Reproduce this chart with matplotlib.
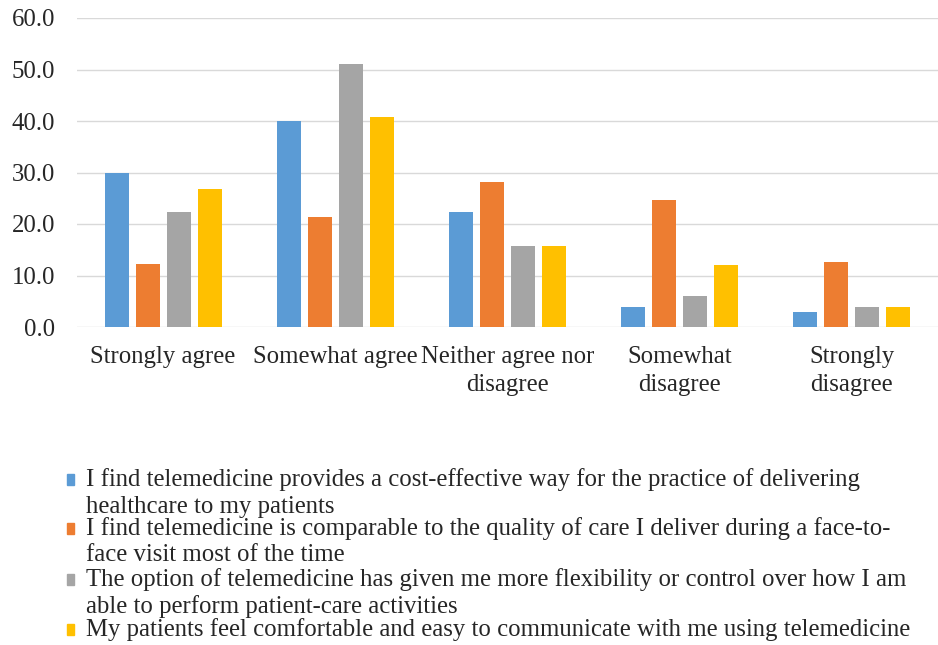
import matplotlib
matplotlib.use("Agg")
import matplotlib.pyplot as plt
from matplotlib.patches import Rectangle
import numpy as np

categories = ["Strongly agree", "Somewhat agree", "Neither agree nor\ndisagree",
              "Somewhat\ndisagree", "Strongly\ndisagree"]

cost_effective = [30.0, 40.0, 22.4, 3.9, 3.0]
comparable_quality = [12.2, 21.4, 28.2, 24.7, 12.6]
more_flexibility = [22.3, 51.0, 15.8, 6.1, 3.9]
patients_comfortable = [26.8, 40.7, 15.8, 12.0, 3.9]

series_labels = [
    ["I find telemedicine provides a cost-effective way for the practice of delivering",
     "healthcare to my patients"],
    ["I find telemedicine is comparable to the quality of care I deliver during a face-to-",
     "face visit most of the time"],
    ["The option of telemedicine has given me more flexibility or control over how I am",
     "able to perform patient-care activities"],
    ["My patients feel comfortable and easy to communicate with me using telemedicine"],
]

yticks = [0, 10, 20, 30, 40, 50, 60]
colors = ["#5B9BD5", "#ED7D31", "#A5A5A5", "#FFC000"]

W, H = 938, 645
FONT = "Liberation Serif"
FS = 17.85
TEXT = "#262626"

fig = plt.figure(figsize=(W / 100, H / 100), dpi=100)
ax = fig.add_axes([77 / W, 1 - 327 / H, (W - 77) / W, (327 - 18) / H])

x = np.arange(len(categories))
step, width = 0.18, 0.14
all_series = [cost_effective, comparable_quality, more_flexibility, patients_comfortable]
for i, (vals, c) in enumerate(zip(all_series, colors)):
    ax.bar(x + (i - 1.5) * step, vals, width=width, color=c, zorder=3, linewidth=0)

ax.set_xlim(-0.5, len(categories) - 0.5)
ax.set_ylim(0, 60)
ax.set_yticks(yticks)
ax.set_yticklabels([f"{v:.1f}" for v in yticks], fontfamily=FONT, fontsize=FS, color=TEXT)
ax.set_xticks(x)
ax.set_xticklabels(categories, fontfamily=FONT, fontsize=FS, color=TEXT, linespacing=1.32)
ax.tick_params(axis="y", length=0, pad=15.8)
ax.tick_params(axis="x", length=0, pad=14)
ax.grid(axis="y", color="#d9d9d9", linewidth=1.0, zorder=0)
for s in ax.spines.values():
    s.set_visible(False)

# legend, one colour square per entry aligned with its first line
baselines = [[486, 513], [535, 561], [586, 613], [636]]
for lines, bl, c in zip(series_labels, baselines, colors):
    fig.patches.append(Rectangle((67 / W, 1 - (bl[0] - 1) / H), 7 / W, 11 / H,
                                 transform=fig.transFigure, color=c))
    for text, b in zip(lines, bl):
        fig.text(86 / W, 1 - b / H, text, fontfamily=FONT, fontsize=FS, color=TEXT,
                 ha="left", va="baseline")

fig.savefig("out.png", dpi=100, facecolor="white")
